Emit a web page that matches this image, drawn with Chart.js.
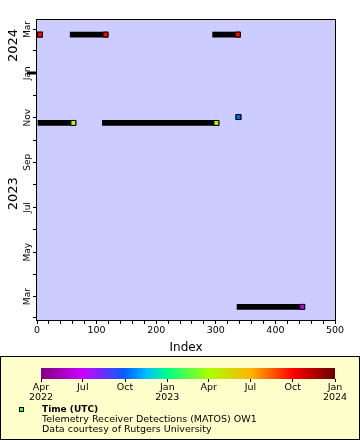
<!DOCTYPE html>
<html><head><meta charset="utf-8">
<script src="https://cdn.jsdelivr.net/npm/chart.js@4.4.1/dist/chart.umd.min.js"></script>
<style>
html,body{margin:0;padding:0;background:#fff;width:360px;height:440px;overflow:hidden;font-family:"DejaVu Sans",sans-serif;}
#mainCanvas{position:absolute;left:0;top:0;}
#legend{position:absolute;left:0;top:356px;width:358px;height:82px;background:#ffffcc;border:1px solid #000;}
#cbCanvas{position:absolute;left:0;top:0;}
.txt{position:absolute;left:41px;font-size:9.5px;line-height:10px;white-space:nowrap;color:#000;}
#mk{position:absolute;left:18px;top:50px;width:3px;height:3px;border:1px solid #000;background:#44ff44;}
</style></head>
<body>
<canvas id="mainCanvas" width="360" height="356"></canvas>
<div id="legend">
  <canvas id="cbCanvas" width="358" height="48"></canvas>
  <div id="mk"></div>
  <div class="txt" style="top:47px;font-weight:bold;font-size:9px;">Time (UTC)</div>
  <div class="txt" style="top:57px;">Telemetry Receiver Detections (MATOS) OW1</div>
  <div class="txt" style="top:67px;">Data courtesy of Rutgers University</div>
</div>
<script>
// ---- data ----
// runs of consecutive detections: first index, last index, time (y), colour-variable time
const runFirstIndex = [5, 6, 60, 114, 299, 338, 340];
const runLastIndex  = [5, 61, 115, 301, 337, 338, 445];
const runTime       = ['2024-02-23', '2023-10-25', '2024-02-23', '2023-10-25', '2024-02-23', '2023-11-02', '2023-02-15'];
const runColorTime  = ['2023-10-01', '2023-04-15', '2023-10-01', '2023-04-15', '2023-10-01', '2022-10-05', '2022-06-10'];

// y axis (time) range and ticks
const yRange = ['2023-01-28', '2024-03-14'];
const yMonthTicks  = ['2023-02-01','2023-03-01','2023-04-01','2023-05-01','2023-06-01','2023-07-01','2023-08-01','2023-09-01','2023-10-01','2023-11-01','2023-12-01','2024-01-01','2024-02-01','2024-03-01'];
const yMonthLabels = ['', 'Mar', '', 'May', '', 'Jul', '', 'Sep', '', 'Nov', '', 'Jan', '', 'Mar'];
const yYearTicks  = ['2023-07-20', '2024-02-08'];
const yYearLabels = ['2023', '2024'];
const yearBoundary = '2024-01-01';

// x axis
const xRange = [0, 500];

// colour bar
const cbRange = ['2022-04-01', '2024-01-01'];
const cbTicks = ['2022-04-01','2022-07-01','2022-10-01','2023-01-01','2023-04-01','2023-07-01','2023-10-01','2024-01-01'];
const cbLabels = [['Apr','2022'], 'Jul', 'Oct', ['Jan','2023'], 'Apr', 'Jul', 'Oct', ['Jan','2024']];

// ---- helpers ----
const toDay = s => Date.parse(s + 'T00:00:00Z') / 86400000;
const cmapStops = [[0,'#800080'],[0.143,'#cc00ff'],[0.286,'#0060ff'],[0.36,'#00c0ff'],[0.429,'#00ff88'],[0.571,'#aaff00'],[0.714,'#ffb400'],[0.857,'#ff0000'],[1,'#660000']];
function hexRgb(h){return [1,3,5].map(i=>parseInt(h.substr(i,2),16));}
function colorFor(d){
  const f = (toDay(d) - toDay(cbRange[0])) / (toDay(cbRange[1]) - toDay(cbRange[0]));
  for (let i = 1; i < cmapStops.length; i++) {
    if (f <= cmapStops[i][0]) {
      const [f0,c0] = cmapStops[i-1], [f1,c1] = cmapStops[i];
      const t = (f - f0) / (f1 - f0), a = hexRgb(c0), b = hexRgb(c1);
      return 'rgb(' + a.map((v,k)=>Math.round(v + (b[k]-v)*t)).join(',') + ')';
    }
  }
  return cmapStops[cmapStops.length-1][1];
}

const FONT = '"DejaVu Sans", sans-serif';
Chart.defaults.font.family = FONT;
Chart.defaults.color = '#000';

const datasets = runFirstIndex.map((f, i) => ({
  data: [{x: f, y: toDay(runTime[i])}, {x: runLastIndex[i], y: toDay(runTime[i])}],
  xAxisID: 'x', yAxisID: 'y',
  borderColor: '#000', borderWidth: 5.8, borderCapStyle: 'square', tension: 0,
  pointRadius: [0, 3.5], pointHoverRadius: [0, 3.5], pointStyle: 'rect',
  pointBackgroundColor: colorFor(runColorTime[i]), pointBorderColor: '#000', pointBorderWidth: 1
}));

const framePlugin = {
  id: 'frame',
  beforeDraw(chart) {
    const {ctx, chartArea: a} = chart;
    ctx.save(); ctx.fillStyle = '#ccccff';
    ctx.fillRect(a.left, a.top, a.right - a.left, a.bottom - a.top);
    ctx.restore();
  },
  afterDraw(chart) {
    const {ctx, chartArea: a} = chart;
    ctx.save(); ctx.strokeStyle = '#000'; ctx.lineWidth = 1;
    ctx.strokeRect(Math.round(a.left) - 0.5, Math.round(a.top) - 0.5, Math.round(a.right - a.left) + 1, Math.round(a.bottom - a.top) + 1);
    const yb = chart.scales.y.getPixelForValue(toDay(yearBoundary));
    ctx.fillStyle = '#000';
    ctx.fillRect(a.left - 10, Math.round(yb) - 1.5, 10, 3);
    ctx.restore();
  }
};

new Chart(document.getElementById('mainCanvas'), {
  type: 'line',
  data: { datasets },
  options: {
    responsive: false, animation: false, devicePixelRatio: 1,
    layout: { padding: { left: 0, right: 25, top: 20, bottom: 0 } },
    plugins: { legend: { display: false }, tooltip: { enabled: false } },
    scales: {
      x: {
        type: 'linear', position: 'bottom', min: xRange[0], max: xRange[1],
        ticks: { stepSize: 20, autoSkip: false, maxRotation: 0, font: { size: 9.5 }, color: '#000', padding: 1,
                 callback: v => (v % 100 === 0 ? String(v) : '') },
        grid: { drawOnChartArea: false, color: '#000', tickLength: 4 },
        border: { display: false },
        title: { display: true, text: 'Index', font: { size: 12 }, color: '#000', padding: { top: 0, bottom: 1 } },
        afterFit(s) { s.height = 36; }
      },
      y: {
        type: 'linear', position: 'left', weight: 0, min: toDay(yRange[0]), max: toDay(yRange[1]),
        afterBuildTicks(s) { s.ticks = yMonthTicks.map(d => ({ value: toDay(d) })); },
        ticks: { autoSkip: false, minRotation: 90, maxRotation: 90, crossAlign: 'center', padding: -3.5,
                 font: { size: 9 }, color: '#000', callback: (v, i) => yMonthLabels[i] },
        grid: { drawOnChartArea: false, color: '#000', tickLength: 4 },
        border: { display: false },
        afterFit(s) { s.width = 18; }
      },
      yYear: {
        type: 'linear', position: 'left', weight: 1, min: toDay(yRange[0]), max: toDay(yRange[1]),
        afterBuildTicks(s) { s.ticks = yYearTicks.map(d => ({ value: toDay(d) })); },
        ticks: { autoSkip: false, minRotation: 90, maxRotation: 90, crossAlign: 'center', padding: -19,
                 font: { size: 13 }, color: '#000', callback: (v, i) => yYearLabels[i] },
        grid: { display: false },
        border: { display: false },
        afterFit(s) { s.width = 19; }
      }
    }
  },
  plugins: [framePlugin]
});

// colour bar legend
const cbPlugin = {
  id: 'cbfill',
  beforeDatasetsDraw(chart) {
    const {ctx, chartArea: a} = chart;
    const g = ctx.createLinearGradient(a.left, 0, a.right, 0);
    cmapStops.forEach(([f, c]) => g.addColorStop(f, c));
    ctx.save(); ctx.fillStyle = g;
    ctx.fillRect(a.left, a.top, a.right - a.left, a.bottom - a.top);
    ctx.restore();
  }
};
new Chart(document.getElementById('cbCanvas'), {
  type: 'scatter',
  data: { datasets: [] },
  options: {
    responsive: false, animation: false, devicePixelRatio: 1,
    layout: { padding: { left: 40, right: 24, top: 11, bottom: 0 } },
    plugins: { legend: { display: false }, tooltip: { enabled: false } },
    scales: {
      x: {
        type: 'linear', position: 'bottom', min: toDay(cbRange[0]), max: toDay(cbRange[1]),
        afterBuildTicks(s) { s.ticks = cbTicks.map(d => ({ value: toDay(d) })); },
        ticks: { autoSkip: false, maxRotation: 0, font: { size: 9.5, lineHeight: 1.1 }, color: '#000', padding: 0,
                 callback: (v, i) => cbLabels[i] },
        grid: { drawOnChartArea: false, color: '#000', tickLength: 3 },
        border: { display: false },
        afterFit(s) { s.height = 26; }
      },
      y: { display: false, min: 0, max: 1 }
    }
  },
  plugins: [cbPlugin]
});
</script>
</body></html>
